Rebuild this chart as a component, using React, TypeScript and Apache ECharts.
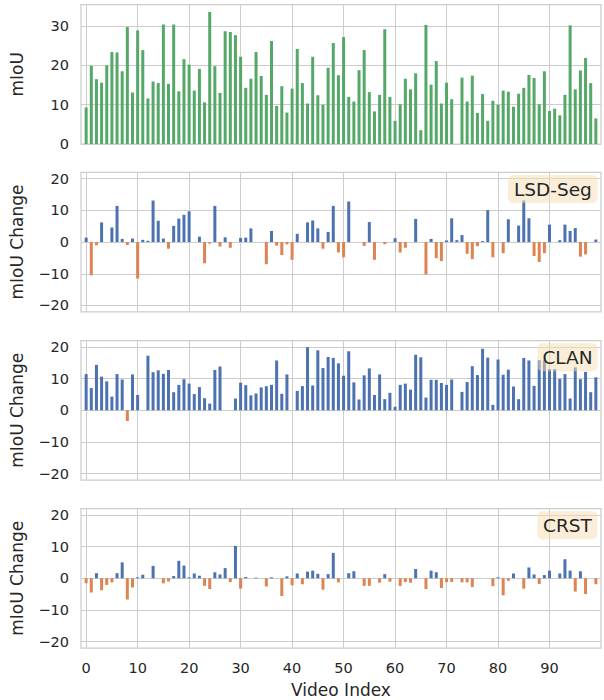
import React, { useEffect, useRef } from "react";
import * as echarts from "echarts";

// Video indices 0..99
const videoIndex: number[] = Array.from({ length: 100 }, (_, i) => i);

const miou: number[] = [
  9.3, 19.9, 16.5, 15.6, 20.0, 23.4, 23.3, 18.5, 29.8, 13.1,
  28.9, 23.9, 11.6, 15.9, 15.5, 30.4, 15.3, 30.4, 13.4, 21.6,
  20.2, 13.6, 19.1, 10.6, 33.6, 19.8, 13.0, 28.7, 28.5, 27.7,
  22.2, 14.3, 16.6, 23.4, 17.3, 12.5, 26.2, 9.7, 14.7, 8.0,
  14.1, 24.2, 15.5, 10.3, 22.2, 12.4, 10.0, 19.4, 25.7, 17.5,
  27.2, 12.0, 10.8, 18.8, 23.9, 13.2, 8.3, 12.5, 29.2, 12.0,
  5.9, 10.1, 16.6, 13.9, 18.0, 3.5, 30.3, 15.1, 21.1, 10.3,
  15.6, 11.4, 0, 16.9, 10.8, 17.4, 7.9, 12.7, 5.9, 11.0,
  10.0, 13.6, 13.3, 9.5, 12.8, 14.3, 17.6, 16.8, 10.1, 18.5,
  8.4, 9.0, 7.3, 12.5, 30.2, 13.9, 18.7, 21.9, 15.5, 6.5,
];

const lsdSeg: number[] = [
  1.4, -10.5, -1.0, 6.2, 0, 4.6, 11.4, 1.0, -0.9, 1.1,
  -11.5, 0.7, 0.4, 13.1, 6.7, 1.1, -2.1, 5.1, 7.4, 8.6,
  9.7, 0, 1.7, -6.7, -0.5, 11.4, -1.4, 1.5, -1.8, 0,
  1.3, 1.4, 4.3, 0, 0, -7.0, 3.5, -1.1, -4.1, -0.7,
  -5.6, 2.6, 0, 6.2, 6.8, 4.3, -2.1, 3.2, 11.4, -3.3,
  -4.8, 12.8, 0, 0, -1.2, 6.3, -5.6, 0, -0.7, 0,
  1.2, -3.3, -1.8, 0, 7.3, 0, -10.2, 1.0, -5.1, -6.0,
  0.5, 7.5, 0.6, 2.2, -3.7, -5.4, -1.3, 0.3, 10.1, -4.8,
  0, -3.5, 7.2, 0, 5.2, 13.1, 7.5, -4.4, -6.3, -3.5,
  5.5, 0, 0.6, 5.5, 3.5, 4.4, -4.6, -3.9, 0, 0.8,
];

const clan: number[] = [
  11.4, 7.0, 14.3, 10.6, 9.1, 4.3, 11.4, 9.7, -3.4, 11.3,
  4.8, 0, 17.2, 12.0, 12.6, 11.5, 12.7, 5.7, 8.0, 9.8,
  8.4, 5.1, 7.3, 3.8, 2.1, 12.7, 13.8, 0, 0, 3.7,
  8.7, 7.9, 4.7, 5.3, 7.2, 7.6, 8.0, 15.7, 5.2, 11.3,
  0, 6.1, 7.6, 19.9, 7.8, 18.9, 13.3, 16.8, 16.5, 14.8,
  10.9, 18.6, 8.8, 3.4, 11.0, 13.2, 4.8, 11.3, 3.5, 5.5,
  1.1, 8.0, 8.4, 6.5, 17.5, 16.7, 4.0, 9.6, 9.6, 8.6,
  8.0, 9.7, 0, 5.8, 8.9, 13.9, 11.1, 19.4, 16.6, 1.7,
  16.0, 11.2, 12.8, 7.5, 3.5, 16.5, 15.7, 7.7, 15.8, 15.7,
  13.0, 13.0, 9.9, 11.4, 3.7, 13.5, 9.8, 12.1, 5.7, 10.4,
];

const crst: number[] = [
  -1.6, -4.5, 1.6, -3.8, -2.1, -1.3, 1.6, 5.0, -6.7, -2.9,
  0.3, 1.1, 0, 3.9, 0, -1.6, -1.0, 0.7, 5.5, 4.0,
  0.3, 1.5, 0.8, -2.4, -3.4, 1.9, 1.2, 3.2, -1.2, 10.2,
  -3.3, 0.4, 0, 0.2, 0, -2.6, 0.3, 0, -5.6, 0.6,
  -2.2, 1.5, -1.9, 2.1, 2.4, 1.4, -3.6, 1.3, 8.0, -1.3,
  0, 1.6, 2.2, 0, -2.4, -2.4, 0, -1.4, 1.3, -1.1,
  0, -2.4, -1.2, -1.4, 2.9, 0, -3.4, 2.4, 1.9, -3.1,
  -1.2, -1.2, 0, -1.3, -1.3, -2.8, 0, 0, 0, -2.5,
  0.3, -5.4, -0.8, 1.5, 0, -3.3, 3.4, 1.2, -1.8, 1.0,
  2.4, 0, 1.5, 6.0, 2.4, -4.2, 2.2, -5.0, 0, -1.9,
];

const xTicks: number[] = [0, 10, 20, 30, 40, 50, 60, 70, 80, 90];
const miouTicks: number[] = [0, 10, 20, 30];
const changeTicks: number[] = [-20, -10, 0, 10, 20];
const methodNames: string[] = ["LSD-Seg", "CLAN", "CRST"];
const yNames: string[] = ["mIoU", "mIoU Change", "mIoU Change", "mIoU Change"];
const xName = "Video Index";

const GREEN = "#55A868";
const BLUE = "#4C72B0";
const ORANGE = "#DD8452";
const GRIDC = "#cccccc";
const TXT = "#262626";
const FONT = "DejaVu Sans";

export default function App() {
  const ref = useRef<HTMLDivElement>(null);

  useEffect(() => {
    if (!ref.current) return;
    const chart = echarts.init(ref.current, undefined, { renderer: "svg" });

    const left = 81;
    const right = 3;
    const tops = [4.5, 172.3, 340.5, 508.5];
    const h = 139.5;

    const grids = tops.map((t) => ({
      left,
      right,
      top: t,
      height: h,
      show: true,
      borderColor: GRIDC,
      borderWidth: 1.25,
      backgroundColor: "transparent",
      containLabel: false,
    }));

    const xAxes = tops.map((_, k) => ({
      gridIndex: k,
      type: "value",
      min: -1,
      max: 100,
      axisLine: { show: false },
      axisTick: { show: false, customValues: xTicks },
      axisLabel: {
        show: k === 3,
        customValues: xTicks,
        fontSize: 14.5,
        color: TXT,
        fontFamily: FONT,
        margin: 12,
      },
      splitLine: { show: true, lineStyle: { color: GRIDC, width: 1 } },
    }));

    const fmt = (v: number) => (v < 0 ? "\u2212" + Math.abs(v) : String(v));

    const yAxes = tops.map((_, k) => {
      const ticks = k === 0 ? miouTicks : changeTicks;
      return {
        gridIndex: k,
        type: "value",
        min: k === 0 ? 0 : -22,
        max: k === 0 ? 35.5 : 22,
        axisLine: { show: false },
        axisTick: { show: false, customValues: ticks },
        axisLabel: {
          customValues: ticks,
          fontSize: 14.5,
          color: TXT,
          fontFamily: FONT,
          margin: 12,
          formatter: fmt,
        },
        splitLine: { show: true, lineStyle: { color: GRIDC, width: 1 } },
      };
    });

    const allSeries = [miou, lsdSeg, clan, crst];
    const series = allSeries.map((vals, k) => ({
      type: "bar",
      xAxisIndex: k,
      yAxisIndex: k,
      barWidth: 3,
      data: vals.map((v, i) => [videoIndex[i], v]),
      itemStyle: {
        color:
          k === 0
            ? GREEN
            : (p: any) => (p.value[1] >= 0 ? BLUE : ORANGE),
      },
    }));

    const graphic: any[] = [];
    tops.forEach((t, k) => {
      graphic.push({
        type: "text",
        x: 17,
        y: t + h / 2,
        rotation: Math.PI / 2,
        z: 20,
        style: {
          text: yNames[k],
          fontSize: 17,
          fontFamily: FONT,
          fill: TXT,
          textAlign: "center",
          textVerticalAlign: "middle",
          align: "center",
          verticalAlign: "middle",
        },
      });
    });
    graphic.push({
      type: "text",
      x: left + (604 - right - left) / 2,
      y: 690,
      z: 20,
      style: {
        text: xName,
        fontSize: 17,
        fontFamily: FONT,
        fill: TXT,
        textAlign: "center",
        textVerticalAlign: "middle",
        align: "center",
        verticalAlign: "middle",
      },
    });

    const boxes = [
      { x0: 508, w: 89.7 },
      { x0: 537.3, w: 60.4 },
      { x0: 537.3, w: 60.2 },
    ];
    methodNames.forEach((name, m) => {
      const t = tops[m + 1];
      const b = boxes[m];
      const by = t + 2.8;
      const bh = 28;
      graphic.push({
        type: "rect",
        z: 30,
        shape: { x: b.x0, y: by, width: b.w, height: bh, r: 5 },
        style: { fill: "rgba(245,222,179,0.5)", stroke: "none" },
      });
      graphic.push({
        type: "text",
        z: 31,
        x: b.x0 + b.w / 2,
        y: by + bh / 2,
        style: {
          text: name,
          fontSize: 18.5,
          fontFamily: FONT,
          fill: TXT,
          textAlign: "center",
          textVerticalAlign: "middle",
          align: "center",
          verticalAlign: "middle",
        },
      });
    });

    chart.setOption({
      animation: false,
      backgroundColor: "#ffffff",
      grid: grids,
      xAxis: xAxes,
      yAxis: yAxes,
      series,
      graphic,
    } as any);

    return () => chart.dispose();
  }, []);

  return (
    <div
      ref={ref}
      style={{ position: "absolute", left: 0, top: 0, width: 604, height: 700 }}
    />
  );
}
